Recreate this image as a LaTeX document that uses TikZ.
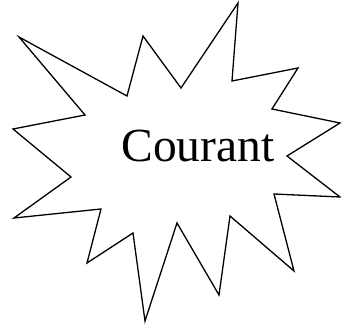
\documentclass[tikz,border=0pt]{standalone}
\usepackage{fontspec}
\setmainfont{Liberation Serif}
\begin{document}
\begin{tikzpicture}[x=1pt, y=-1pt, burst/.style={draw, line width=1.3pt, line join=miter}]
\useasboundingbox (0,0) rectangle (341,326);
\draw[burst] (19,37) -- (127,96) -- (143,36) -- (181,88) -- (238,3) -- (232,81)
  -- (298,68) -- (272,109) -- (340,123) -- (287,156) -- (340,197) -- (274,194)
  -- (294,271) -- (230,216) -- (219,295) -- (177,223) -- (145,321) -- (133,233)
  -- (87,263) -- (101,209) -- (14,218) -- (71,177) -- (13,129) -- (85,115) -- cycle;
\node[anchor=base, inner sep=0pt, font=\fontsize{47.5}{50}\selectfont] (courant) at (198,162) {Courant};
\end{tikzpicture}
\end{document}
